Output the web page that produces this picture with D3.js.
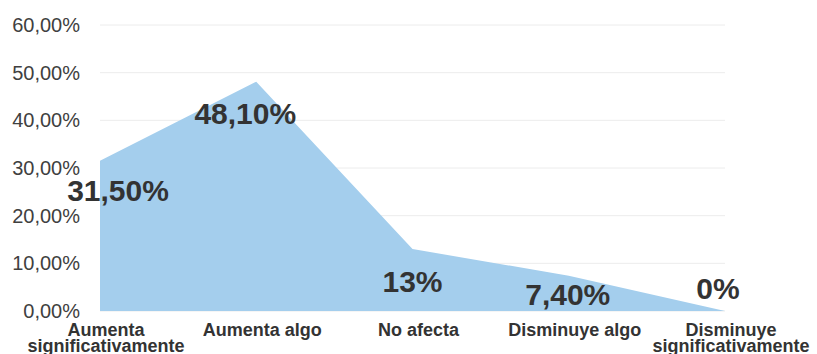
<!DOCTYPE html>
<html><head><meta charset="utf-8">
<script src="https://cdn.jsdelivr.net/npm/d3@7"></script>
<style>body{margin:0;background:#fff}svg{display:block}</style>
</head><body>
<svg id="c" width="817" height="354"></svg>
<script>
const categories = [["Aumenta","significativamente"],["Aumenta algo"],["No afecta"],["Disminuye algo"],["Disminuye","significativamente"]];
const values = [31.5, 48.1, 13, 7.4, 0];
const valueLabels = ["31,50%","48,10%","13%","7,40%","0%"];
const yTicks = [0,10,20,30,40,50,60];

const labelDx = [18, -11, 0, -1, -7];
const labelDy = [40, 42, 43, 29, -12];

const svg = d3.select("#c");
const x = d3.scalePoint().domain(d3.range(categories.length)).range([100,725]);
const y = d3.scaleLinear().domain([0,60]).range([311,25]);

const fmt = v => v.toFixed(2).replace(".",",") + "%";

// gridlines
svg.append("g").selectAll("line").data(yTicks).join("line")
  .attr("x1",100).attr("x2",725)
  .attr("y1",d=>y(d)).attr("y2",d=>y(d))
  .attr("stroke","#ececec").attr("stroke-width",1);

// area
const area = d3.area().x((d,i)=>x(i)).y0(y(0)).y1(d=>y(d));
svg.append("path").datum(values).attr("d",area).attr("fill","#a4ceed");

// y axis
const yAxis = d3.axisLeft(y).tickValues(yTicks).tickFormat(fmt).tickSize(0).tickPadding(20);
const ga = svg.append("g").attr("transform","translate(100,0)").call(yAxis);
ga.select(".domain").remove();
ga.selectAll("text").attr("font-family","Liberation Sans, Arial, sans-serif")
  .attr("font-size",20).attr("fill","#404040");

// x labels
const xg = svg.append("g");
categories.forEach((c,i)=>{
  const t = xg.append("text").attr("x",x(i)+6).attr("y",336)
    .attr("text-anchor","middle").attr("font-family","Liberation Sans, Arial, sans-serif")
    .attr("font-weight","bold").attr("font-size",18).attr("fill","#333");
  c.forEach((s,j)=>{
    t.append("tspan").attr("x",x(i)+6).attr("dy", j===0?0:16).text(s);
  });
});

// value labels
svg.append("g").selectAll("text").data(values).join("text")
  .attr("x",(d,i)=>x(i)+labelDx[i])
  .attr("y",(d,i)=>y(d)+labelDy[i])
  .attr("text-anchor","middle")
  .attr("font-family","Liberation Sans, Arial, sans-serif")
  .attr("font-weight","bold").attr("font-size",30).attr("fill","#333")
  .text((d,i)=>valueLabels[i]);
</script>
</body></html>
